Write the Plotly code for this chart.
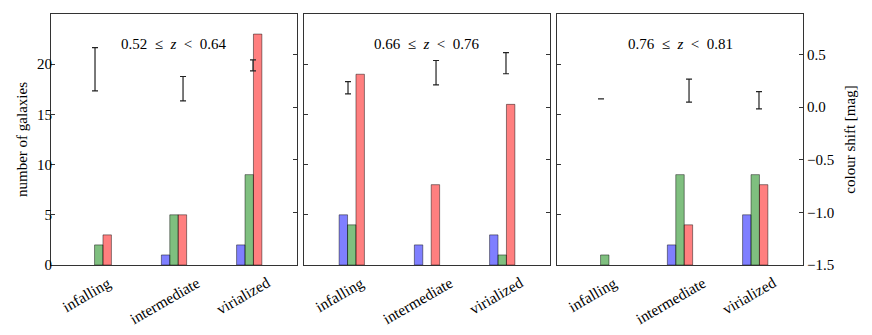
import plotly.graph_objects as go

font_family = 'Liberation Serif'

categories = ['infalling', 'intermediate', 'virialized']
panel_titles = ['0.52 ≤ <i>z</i> &lt; 0.64', '0.66 ≤ <i>z</i> &lt; 0.76', '0.76 ≤ <i>z</i> &lt; 0.81']

# number of galaxies per category: blue / green / red, one list per panel (None = no bar)
blue_counts = [[None, 1, 2], [5, 2, 3], [None, 2, 5]]
green_counts = [[2, 5, 9], [4, None, 1], [1, 9, 9]]
red_counts = [[3, 5, 23], [19, 8, 16], [None, 4, 8]]

# colour shift with errors (right axis), x offsets in category units
shift_x_offset = [-0.05, 0.12, 0.05]
shift_values = [[0.361, 0.176, 0.398], [0.185, 0.328, 0.418], [0.079, 0.157, 0.066]]
shift_errors = [[0.206, 0.116, 0.052], [0.058, 0.116, 0.100], [0.0, 0.109, 0.082]]

bar_colors = ['rgba(0,0,255,0.5)', 'rgba(0,128,0,0.5)', 'rgba(255,0,0,0.5)']
edge_color = 'rgba(0,0,0,0.45)'
axis_color = '#333333'

W, H = 872, 335
# plot area in pixels
L, R, T, B = 51, 803, 14, 265
x_pix = [(51, 297), (304, 550), (557, 803)]
label_shift_px = [-12, -9, -6]  # rotated category labels sit a little left of the group centre

fig = go.Figure()

for p in range(3):
	xa = 'x' if p == 0 else 'x' + str(p + 1)
	ya = 'y' if p == 0 else 'y' + str(p + 1)
	ya2 = 'y' + str(p + 4)
	for counts, col in zip([blue_counts, green_counts, red_counts], bar_colors):
		fig.add_trace(go.Bar(
			x=list(range(3)),
			y=counts[p],
			marker=dict(color=col, line=dict(color=edge_color, width=1)),
			xaxis=xa, yaxis=ya,
			showlegend=False,
		))
	fig.add_trace(go.Scatter(
		x=[i + off for i, off in enumerate(shift_x_offset)],
		y=shift_values[p],
		mode='markers',
		marker=dict(size=1, color='rgba(0,0,0,0)'),
		error_y=dict(type='data', array=shift_errors[p], color='#222222', thickness=1.2, width=3),
		xaxis=xa, yaxis=ya2,
		showlegend=False,
	))

	x0, x1 = x_pix[p]
	dom_x = [(x0 - L) / (R - L), (x1 - L) / (R - L)]
	xkey = 'xaxis' if p == 0 else 'xaxis' + str(p + 1)
	ykey = 'yaxis' if p == 0 else 'yaxis' + str(p + 1)
	y2key = 'yaxis' + str(p + 4)
	xr = [-0.635, 2.635]
	px_per_unit = (x1 - x0) / (xr[1] - xr[0])

	fig.update_layout({
		xkey: dict(
			domain=dom_x, anchor=ya, range=xr, automargin=False,
			tickmode='array', tickvals=list(range(3)), showticklabels=False,
			ticks='', showgrid=False, zeroline=False,
			showline=True, linecolor=axis_color, linewidth=1, mirror=True,
		),
		ykey: dict(
			domain=[0, 1], anchor=xa, range=[0, 25], automargin=False,
			tickvals=[0, 5, 10, 15, 20], ticks='inside', ticklen=4, tickcolor=axis_color,
			showticklabels=(p == 0), showgrid=False, zeroline=False,
			showline=True, linecolor=axis_color, linewidth=1, ticklabelstandoff=-5,
			tickfont=dict(family=font_family, size=15, color='black'),
			title=dict(text='number of galaxies' if p == 0 else '', font=dict(family=font_family, size=15, color='black'), standoff=5),
		),
		y2key: dict(
			overlaying=ya, anchor=xa, side='right', range=[-1.5, 0.886], automargin=False,
			tickvals=[-1.5, -1.0, -0.5, 0.0, 0.5], ticktext=['−1.5', '−1.0', '−0.5', '0.0', '0.5'],
			ticks='inside', ticklen=4, tickcolor=axis_color,
			showticklabels=(p == 2), showgrid=False, zeroline=False,
			showline=True, linecolor=axis_color, linewidth=1,
			tickfont=dict(family=font_family, size=15, color='black'),
			title=dict(text='colour shift [mag]' if p == 2 else '', font=dict(family=font_family, size=15, color='black'), standoff=11),
		),
	})

	# category labels, rotated like matplotlib's centred tick labels
	for i, cat in enumerate(categories):
		fig.add_annotation(
			text=cat,
			xref=xa, x=i + label_shift_px[i] / px_per_unit, xanchor='center',
			yref='paper', y=-(271 - B) / (B - T), yanchor='top',
			textangle=-30, showarrow=False,
			font=dict(family=font_family, size=15.5, color='black'),
		)

	fig.add_annotation(
		text=panel_titles[p].replace(' ', '\u00a0\u00a0'),
		xref='paper', x=(dom_x[0] + dom_x[1]) / 2, xanchor='center',
		yref='paper', y=1 - (44 - T) / (B - T), yanchor='middle',
		showarrow=False,
		font=dict(family=font_family, size=15, color='black'),
	)

fig.update_layout(
	width=W, height=H,
	margin=dict(l=L, r=W - R, t=T, b=H - B, pad=0),
	barmode='group', bargap=0.664, bargroupgap=0,
	plot_bgcolor='white', paper_bgcolor='white',
	font=dict(family=font_family, color='black'),
)

# page body has a default 8px margin, drop it so the figure sits at the window corner
fig.write_html('out.html', config={'displayModeBar': False},
	post_script="document.body.style.margin='0';")
